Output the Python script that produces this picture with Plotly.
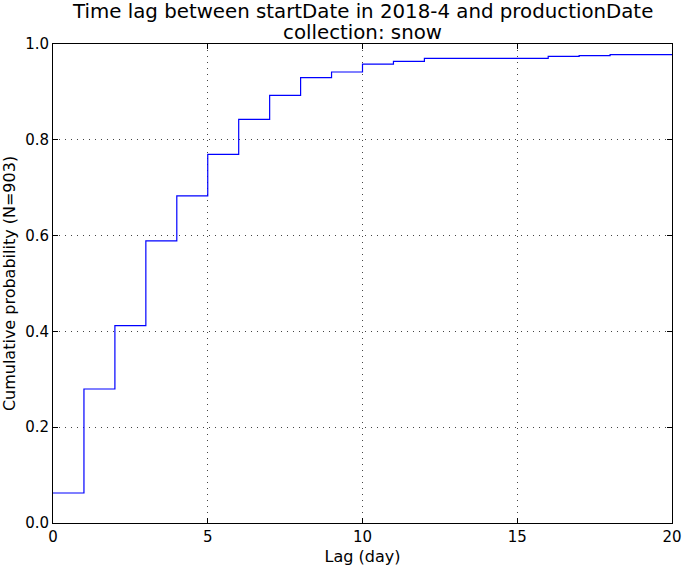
import plotly.graph_objects as go

lag_days = list(range(0, 21))
cum_prob = [0.0626, 0.2797, 0.412, 0.589, 0.683, 0.7696, 0.8427, 0.8927,
            0.930, 0.9415, 0.958, 0.9637, 0.970, 0.970, 0.970, 0.970,
            0.974, 0.9756, 0.978, 0.978, 0.978]
x_ticks = [0, 5, 10, 15, 20]
y_ticks = [0.0, 0.2, 0.4, 0.6, 0.8, 1.0]

title_line1 = "Time lag between startDate in 2018-4 and productionDate"
title_line2 = "collection: snow"
x_label = "Lag (day)"
y_label = "Cumulative probability (N=903)"

FONT = "DejaVu Sans"

fig = go.Figure()
fig.add_trace(go.Scatter(
    x=lag_days, y=cum_prob, mode="lines",
    line=dict(shape="hv", color="#0000ff", width=1.2),
    showlegend=False, hoverinfo="x+y",
))

axis_common = dict(
    showline=True, linecolor="black", linewidth=1, mirror="allticks",
    ticks="inside", ticklen=5, tickcolor="black", tickwidth=1,
    showgrid=True, gridcolor="#444444", griddash="1px,5px", gridwidth=1,
    zeroline=False, tickfont=dict(family=FONT, size=15, color="black"),
    automargin=False,
)

fig.update_layout(
    width=683, height=566,
    margin=dict(l=53, r=11, t=44, b=43),
    paper_bgcolor="white", plot_bgcolor="white",
    font=dict(family=FONT, color="black"),
    xaxis=dict(range=[0, 20], tickvals=x_ticks, ticktext=[str(v) for v in x_ticks],
               title=dict(text=x_label, font=dict(family=FONT, size=16), standoff=7),
               **axis_common),
    yaxis=dict(range=[0, 1], tickvals=y_ticks, ticktext=[f"{v:.1f}" for v in y_ticks],
               title=dict(text=y_label, font=dict(family=FONT, size=16), standoff=8),
               **axis_common),
    annotations=[
        dict(text=title_line1, xref="paper", yref="paper", x=0.5, y=1,
             xanchor="center", yanchor="bottom", yshift=19, showarrow=False,
             font=dict(family=FONT, size=19.8, color="black")),
        dict(text=title_line2, xref="paper", yref="paper", x=0.5, y=1,
             xanchor="center", yanchor="bottom", yshift=-2, showarrow=False,
             font=dict(family=FONT, size=19.8, color="black")),
    ],
)

fig.write_html("out.html", config={"displayModeBar": False},
               post_script="document.body.style.margin='0px';")
